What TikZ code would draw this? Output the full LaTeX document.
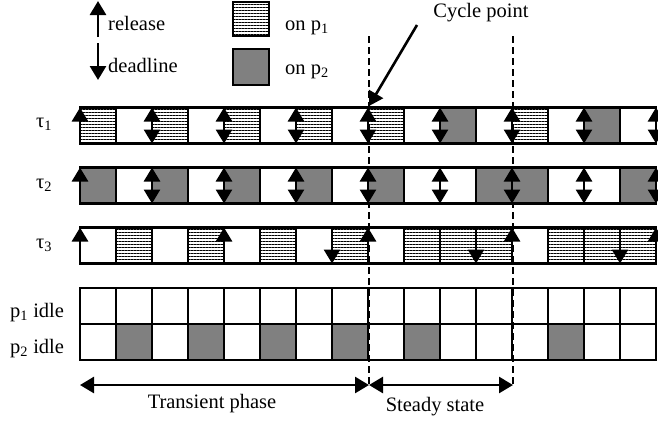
\documentclass[tikz,border=0pt]{standalone}
\usepackage{fontspec}
\setmainfont{Liberation Serif}
\usetikzlibrary{arrows.meta,patterns.meta}
\begin{document}
\begin{tikzpicture}[x=1pt,y=-1pt,
  every node/.style={inner sep=0pt,font=\fontsize{20.5pt}{24pt}\selectfont},
  border/.style={draw=black,line width=2.2pt},
  hatchfill/.style={pattern={Lines[distance=3pt,line width=0.8pt]}},
  grayfill/.style={fill=gray},
  uparrow/.style={line width=2.6pt,-{Triangle[width=16pt,length=14pt]}},
  dblarrow/.style={line width=2.6pt,{Triangle[width=16pt,length=14pt]}-{Triangle[width=16pt,length=14pt]}},
  cycledash/.style={line width=2pt,dash pattern=on 7pt off 4pt}
]
\useasboundingbox (0,0) rectangle (658,421);
\fill[white] (0,0) rectangle (658,421);

% legend
\coordinate (relA) at (98,37); \coordinate (relB) at (98,1);
\coordinate (ddlA) at (98,43); \coordinate (ddlB) at (98,80);
\draw[uparrow] (relA) -- (relB);
\draw[uparrow] (ddlA) -- (ddlB);
\node[anchor=base west] (lrel) at (108,30) {release};
\node[anchor=base west] (lddl) at (108,72) {deadline};
\draw[border,hatchfill] (233,2) rectangle (269,36);
\draw[border,grayfill] (233,49) rectangle (269,85);
\node[anchor=base west] (lp1) at (285,30) {on p\textsubscript{1}};
\node[anchor=base west] (lp2) at (285,74) {on p\textsubscript{2}};

% cycle point markers
\coordinate (d1a) at (369,36); \coordinate (d1b) at (369,385);
\coordinate (d2a) at (513,36); \coordinate (d2b) at (513,385);
\draw[cycledash] (d1a) -- (d1b);
\draw[cycledash] (d2a) -- (d2b);
\node[anchor=base] (cyc) at (481,17) {Cycle point};

% row labels
\node[anchor=base west] (t1) at (36,127) {τ\textsubscript{1}};
\node[anchor=base west] (t2) at (36,188) {τ\textsubscript{2}};
\node[anchor=base west] (t3) at (36,248) {τ\textsubscript{3}};
\node[anchor=base west] (i1) at (10,317) {p\textsubscript{1} idle};
\node[anchor=base west] (i2) at (10,353) {p\textsubscript{2} idle};

% tau1
\foreach \i in {0,2,4,6,8,12} \fill[hatchfill] ({80+36*\i},107.5) rectangle ++(36,36);
\foreach \i in {10,14} \fill[grayfill] ({80+36*\i},107.5) rectangle ++(36,36);
\foreach \i in {1,...,15} \draw[line width=2.2pt] ({80+36*\i},107.5) -- ++(0,36);
\draw[border] (80,107.5) rectangle (656,143.5);
% tau2
\foreach \i in {0,2,4,6,8,11,12,15} \fill[grayfill] ({80+36*\i},167.5) rectangle ++(36,36);
\foreach \i in {1,...,15} \draw[line width=2.2pt] ({80+36*\i},167.5) -- ++(0,36);
\draw[border] (80,167.5) rectangle (656,203.5);
% tau3
\foreach \i in {1,3,5,7,9,10,11,13,14,15} \fill[hatchfill] ({80+36*\i},227.5) rectangle ++(36,36);
\foreach \i in {1,...,15} \draw[line width=2.2pt] ({80+36*\i},227.5) -- ++(0,36);
\draw[border] (80,227.5) rectangle (656,263.5);
% idle rows
\foreach \i in {1,3,5,7,9,13} \fill[grayfill] ({80+36*\i},324) rectangle ++(36,36);
\foreach \i in {1,...,15} \draw[line width=2.2pt] ({80+36*\i},288) -- ++(0,72);
\draw[line width=2.2pt] (80,324) -- (656,324);
\draw[border] (80,288) rectangle (656,360);

% release / deadline arrows
\draw[uparrow] (80,143.5) -- (80,107.5);
\foreach \i in {2,4,...,16} \draw[dblarrow] ({80+36*\i},143.5) -- ({80+36*\i},107.5);
\draw[uparrow] (80,203.5) -- (80,167.5);
\foreach \i in {2,4,...,16} \draw[dblarrow] ({80+36*\i},203.5) -- ({80+36*\i},167.5);
\foreach \i in {0,4,8,12,16} \draw[uparrow] ({80+36*\i},263.5) -- ({80+36*\i},227.5);
\foreach \i in {7,11,15} \draw[uparrow] ({80+36*\i},227.5) -- ({80+36*\i},263.5);

% cycle point arrow
\coordinate (cpa) at (417,25); \coordinate (cpb) at (369,106);
\draw[uparrow] (cpa) -- (cpb);

% phases
\coordinate (pl) at (80,385); \coordinate (pc) at (369,385); \coordinate (pr) at (513,385);
\draw[dblarrow] (pl) -- (pc);
\draw[dblarrow] (pc) -- (pr);
\node[anchor=base] (tp) at (212,408) {Transient phase};
\node[anchor=base] (ss) at (435,411) {Steady state};
\end{tikzpicture}
\end{document}
